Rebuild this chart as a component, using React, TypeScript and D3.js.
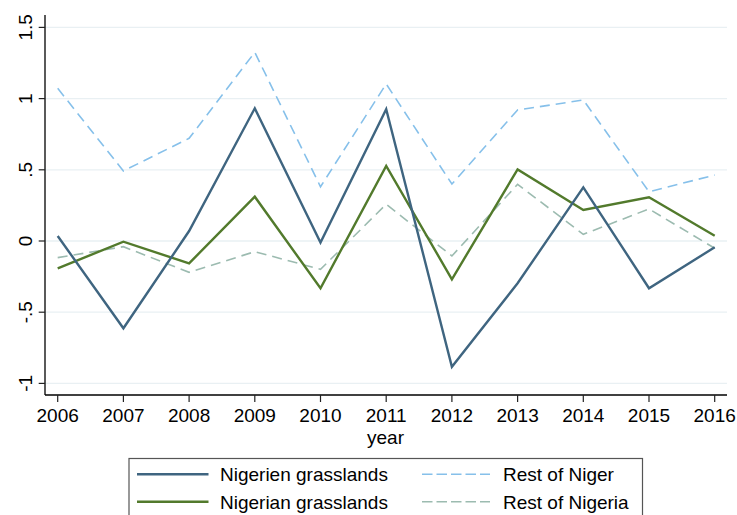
import React from "react";
import * as d3 from "d3";

const years = [2006, 2007, 2008, 2009, 2010, 2011, 2012, 2013, 2014, 2015, 2016];
const nigerienGrasslands = [0.035, -0.613, 0.07, 0.932, -0.01, 0.925, -0.883, -0.297, 0.377, -0.332, -0.044];
const nigerianGrasslands = [-0.192, -0.005, -0.157, 0.311, -0.332, 0.527, -0.269, 0.503, 0.218, 0.307, 0.037];
const restOfNiger = [1.072, 0.492, 0.721, 1.325, 0.381, 1.103, 0.4, 0.92, 0.99, 0.346, 0.463];
const restOfNigeria = [-0.117, -0.04, -0.22, -0.075, -0.199, 0.258, -0.105, 0.398, 0.047, 0.225, -0.051];
const yTicks = [-1, -0.5, 0, 0.5, 1, 1.5];
const yTickLabels = ["-1", "-.5", "0", ".5", "1", "1.5"];

const seriesList = [
  { name: "Nigerien grasslands", values: nigerienGrasslands, color: "#3f6580", width: 2.4, dash: "" },
  { name: "Nigerian grasslands", values: nigerianGrasslands, color: "#527a2c", width: 2.4, dash: "" },
  { name: "Rest of Niger", values: restOfNiger, color: "#86c0ea", width: 1.6, dash: "10,6" },
  { name: "Rest of Nigeria", values: restOfNigeria, color: "#9cbbb0", width: 1.6, dash: "10,6" },
];

export default function App() {
  const W = 737, H = 515;
  const axisX = 45, plotRight = 727, axisY = 395, plotTop = 15;
  const x = d3.scaleLinear().domain([2006, 2016]).range([57.7, 714.7]);
  const y = d3.scaleLinear().domain([0, 1]).range([241, 98.6]);
  const font = "'Liberation Sans', Arial, sans-serif";
  const fs = 19;

  const line = (vals: number[]) =>
    d3.line<number>().x((_, i) => x(years[i])).y((v) => y(v))(vals) || "";

  const legendItems = [
    { s: seriesList[0], lx: 137, tx: 220, ly: 474.3 },
    { s: seriesList[2], lx: 422, tx: 503, ly: 474.3 },
    { s: seriesList[1], lx: 137, tx: 220, ly: 501.7 },
    { s: seriesList[3], lx: 422, tx: 503, ly: 501.7 },
  ];

  return (
    <svg width={W} height={H} style={{ position: "absolute", left: 0, top: 0 }} fontFamily={font}>
      <rect x={0} y={0} width={W} height={H} fill="#fff" />
      {yTicks.map((t) => (
        <line key={"g" + t} x1={axisX} x2={plotRight} y1={y(t)} y2={y(t)} stroke="#e9f0f3" strokeWidth={1.3} />
      ))}
      {seriesList.slice().reverse().map((s) => (
        <path key={s.name} d={line(s.values)} fill="none" stroke={s.color} strokeWidth={s.width}
          strokeDasharray={s.dash || undefined} strokeLinejoin="miter" />
      ))}
      <line x1={axisX} x2={axisX} y1={plotTop} y2={axisY} stroke="#000" strokeWidth={1.3} />
      <line x1={axisX} x2={plotRight} y1={axisY} y2={axisY} stroke="#000" strokeWidth={1.3} />
      {yTicks.map((t, i) => (
        <g key={"t" + t}>
          <line x1={38.7} x2={axisX} y1={y(t)} y2={y(t)} stroke="#222" strokeWidth={1.2} />
          <text transform={`translate(31.5,${y(t)}) rotate(-90)`} textAnchor="middle" fontSize={fs} fill="#000">
            {yTickLabels[i]}
          </text>
        </g>
      ))}
      {years.map((yr) => (
        <g key={"x" + yr}>
          <line x1={x(yr)} x2={x(yr)} y1={axisY} y2={402} stroke="#222" strokeWidth={1.2} />
          <text x={x(yr)} y={421.5} textAnchor="middle" fontSize={fs} fill="#000">{yr}</text>
        </g>
      ))}
      <text x={385.5} y={444} textAnchor="middle" fontSize={fs} fill="#000">year</text>
      <rect x={129} y={458.5} width={513.5} height={60} fill="#fff" stroke="#555" strokeWidth={1.2} />
      {legendItems.map((it) => (
        <g key={"l" + it.s.name}>
          <line x1={it.lx} x2={it.lx + (it.s.dash ? 68 : 71.5)} y1={it.ly} y2={it.ly} stroke={it.s.color}
            strokeWidth={it.s.width} strokeDasharray={it.s.dash ? "10.5,4" : undefined} />
          <text x={it.tx} y={it.ly + 6.8} fontSize={fs} fill="#000">{it.s.name}</text>
        </g>
      ))}
    </svg>
  );
}
